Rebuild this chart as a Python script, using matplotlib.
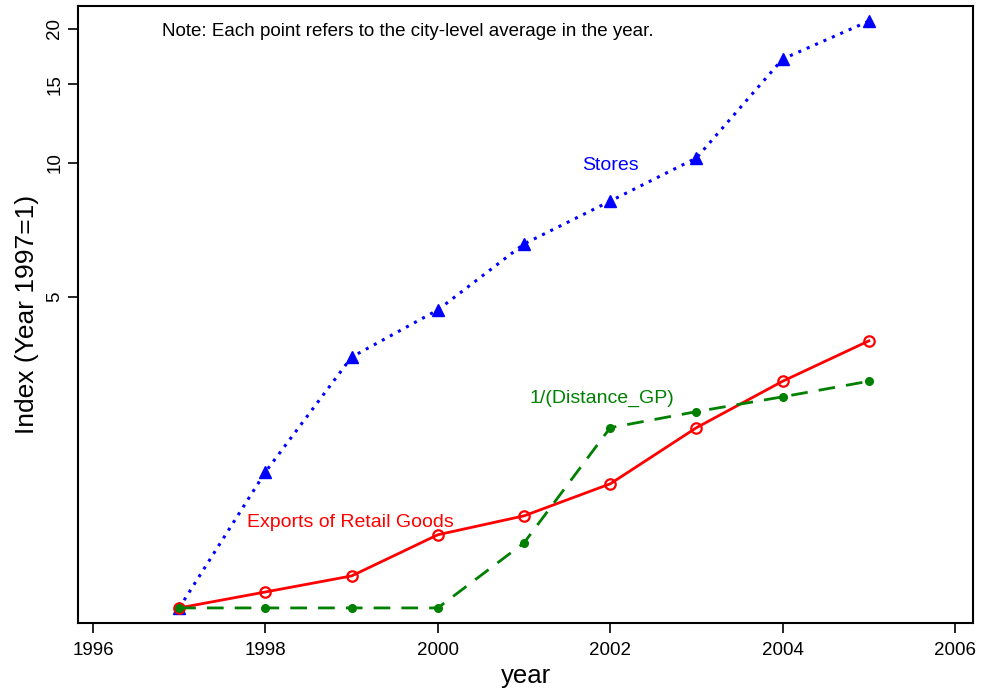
import numpy as np
import matplotlib.pyplot as plt

plt.rcParams['font.family'] = ['Liberation Sans', 'DejaVu Sans']

years = [1997, 1998, 1999, 2000, 2001, 2002, 2003, 2004, 2005]
stores = [1.0, 2.02, 3.66, 4.67, 6.57, 8.2, 10.25, 17.1, 20.8]
exports = [1.0, 1.086, 1.18, 1.46, 1.61, 1.90, 2.54, 3.23, 3.98]
distance = [1.0, 1.0, 1.0, 1.0, 1.40, 2.54, 2.76, 2.98, 3.23]

fig = plt.figure(figsize=(9.81, 6.91), dpi=100)
ax = fig.add_axes([0.0795, 0.0984, 0.9125, 0.893])

ax.plot(years, stores, color='blue', linestyle=(0, (1, 2)), linewidth=2.2, marker='^', markersize=8)
ax.plot(years, exports, color='red', linestyle='-', linewidth=2, marker='o', markersize=7.5,
        markerfacecolor='none', markeredgewidth=1.6)
ax.plot(years, distance, color='green', linestyle=(0, (6, 4)), linewidth=2, marker='o', markersize=5.5)

ax.set_yscale('log')
ax.set_ylim(0.925, 22.5)
ax.set_xlim(1995.826, 2006.21)
ax.set_yticks([5, 10, 15, 20])
ax.set_yticklabels(['5', '10', '15', '20'], rotation=90, va='center')
ax.minorticks_off()
ax.set_xticks([1996, 1998, 2000, 2002, 2004, 2006])
ax.tick_params(labelsize=13.5, length=7, width=1.2)
ax.tick_params(axis='x', pad=7)
for s in ax.spines.values():
    s.set_linewidth(1.5)

ax.set_xlabel('year', fontsize=18.5, labelpad=3)
ax.set_ylabel('Index (Year 1997=1)', fontsize=19, labelpad=5)

ax.text(1996.8, 19.7, 'Note: Each point refers to the city-level average in the year.',
        fontsize=13.5, va='center', ha='left')
ax.text(2002.0, 9.85, 'Stores', color='blue', fontsize=14, ha='center', va='center')
ax.text(1998.99, 1.555, 'Exports of Retail Goods', color='red', fontsize=14, ha='center', va='center')
ax.text(2001.9, 2.96, '1/(Distance_GP)', color='green', fontsize=14, ha='center', va='center')

fig.savefig('out.png')
